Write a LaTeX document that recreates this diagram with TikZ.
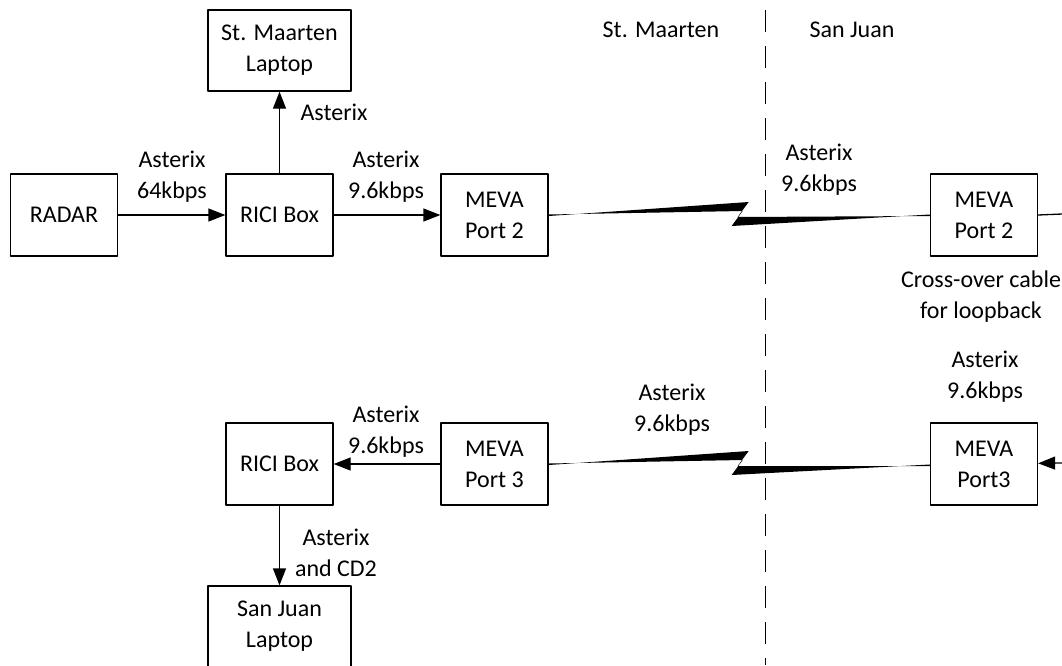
\documentclass[tikz,border=0pt]{standalone}
\usepackage{fontspec}
\setmainfont{Carlito}
\usetikzlibrary{arrows,arrows.meta}

\tikzset{
  box/.style={draw, line width=1.3pt, minimum width=107pt, minimum height=82pt, align=center, inner sep=0pt},
  laptop/.style={box, minimum width=143pt, minimum height=81pt},
  lbl/.style={align=center, inner sep=0pt},
  link/.style={line width=1.3pt, ->},
}

\begin{document}
\begin{tikzpicture}[line cap=round,line join=round,>={Triangle[length=17pt,width=13pt]},x=1pt,y=-1pt,font=\fontsize{24}{31}\selectfont]
			\useasboundingbox (0,0) rectangle (1062,665);
			%Boites St. Maarten
			\node[box] (radar) at (64,215) {RADAR};
			\node[box] (riciA) at (279.5,215) {RICI Box};
			\node[laptop] (lapA) at (279.5,50.5) {St. Maarten\\Laptop};
			\node[box] (mevaA) at (494.5,215) {MEVA\\Port 2};
			\node[box] (riciB) at (279.5,464) {RICI Box};
			\node[box] (mevaC) at (494.5,464) {MEVA\\Port 3};
			\node[laptop] (lapB) at (279.5,626.5) {San Juan\\Laptop};
			%Boites San Juan
			\node[box] (mevaB) at (984,215) {MEVA\\Port 2};
			\node[box] (mevaD) at (984,464) {MEVA\\Port3};
			\coordinate (outB) at (1062,214);
			\coordinate (inD) at (1062,463);
			%separation
			\coordinate (divtop) at (765,10);
			\coordinate (divbot) at (765,665);
			\draw[line width=0.9pt, dash pattern=on 22pt off 14pt, line cap=butt] (divtop)--(divbot);
			\node (smlbl) at (661,30) {St. Maarten};
			\node (sjlbl) at (852,30) {San Juan};
			%liaisons
			\draw[link] (radar)--(riciA);
			\draw[link] (riciA)--(lapA);
			\draw[link] (riciA)--(mevaA);
			\draw[line width=1.3pt] (mevaB.east)--(outB);
			\draw[link] (inD)--(mevaD);
			\draw[link] (mevaC)--(riciB);
			\draw[link] (riciB)--(lapB);
			%eclairs
			\fill ([yshift=-1pt]mevaA.east)--([shift={(200,-13)}]mevaA.east)--([shift={(189,2)}]mevaA.east)
				--([yshift=-1pt]mevaB.west)--([yshift=0.5pt]mevaB.west)--([shift={(183,11)}]mevaA.east)
				--([shift={(194,-4)}]mevaA.east)--([yshift=0.5pt]mevaA.east)--cycle;
			\fill ([yshift=-1pt]mevaC.east)--([shift={(200,-13)}]mevaC.east)--([shift={(189,2)}]mevaC.east)
				--([yshift=-2pt]mevaD.west)--([yshift=-0.5pt]mevaD.west)--([shift={(183,11)}]mevaC.east)
				--([shift={(194,-4)}]mevaC.east)--([yshift=0.5pt]mevaC.east)--cycle;
			%etiquettes
			\node[lbl] (l1) at (172,177) {Asterix\\64kbps};
			\node[lbl] (l2) at (334,112) {Asterix};
			\node[lbl] (l3) at (386,177) {Asterix\\9.6kbps};
			\node[lbl] (l4) at (819,170) {Asterix\\9.6kbps};
			\node[lbl] (l5) at (981,297) {Cross-over cable\\for loopback};
			\node[lbl] (l6) at (985,377) {Asterix\\9.6kbps};
			\node[lbl] (l7) at (672,410) {Asterix\\9.6kbps};
			\node[lbl] (l8) at (386,432) {Asterix\\9.6kbps};
			\node[lbl] (l9) at (336,553) {Asterix\\and CD2};
	\end{tikzpicture}
\end{document}
